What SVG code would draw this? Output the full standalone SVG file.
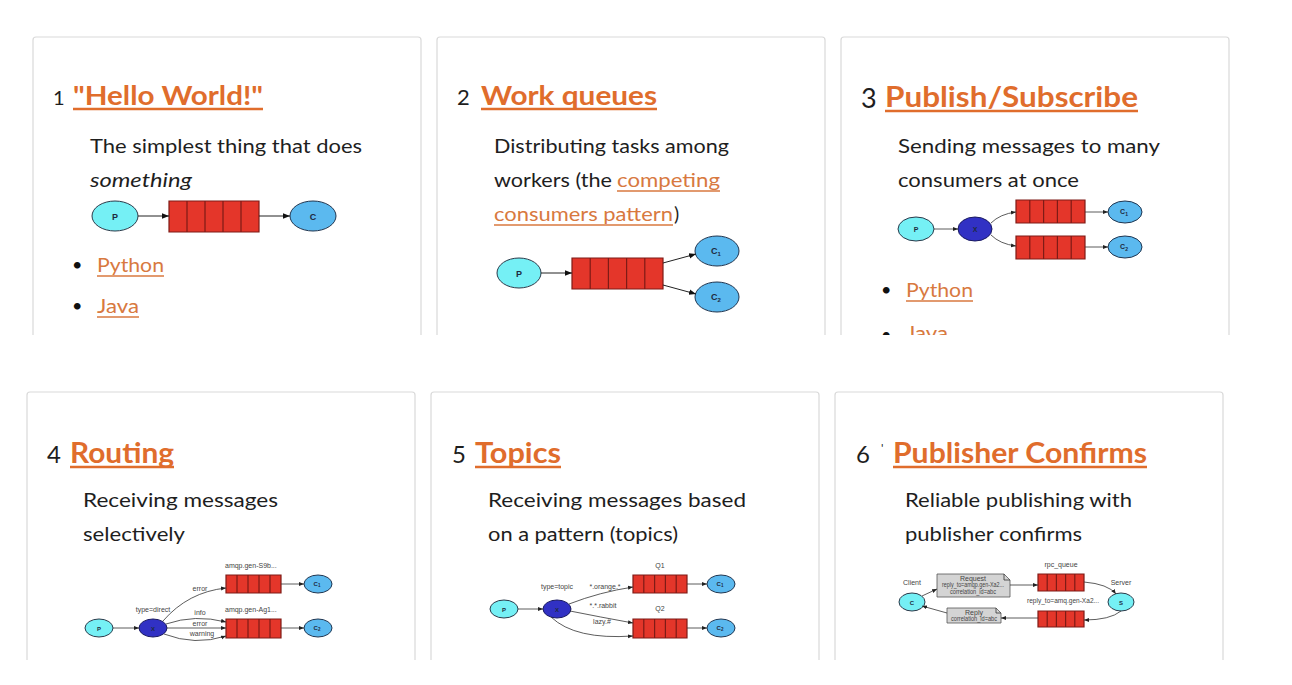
<svg xmlns="http://www.w3.org/2000/svg" xmlns:xlink="http://www.w3.org/1999/xlink" width="1292" height="685" viewBox="0 0 1292 685">
<style>
.card{fill:#fff;stroke:#d9d9d9;stroke-width:1.2}
.num{font-family:Lato,"Open Sans",sans-serif;fill:#1e1e1e}
.title{font-family:Lato,"Open Sans",sans-serif;font-weight:700;fill:#e06d2c}
.ul{stroke:#e06d2c;stroke-width:2.4}
.desc{font-family:Lato,"Open Sans",sans-serif;font-size:19.5px;fill:#1e1e1e}
.link{fill:#d8793f}
.lul{stroke:#d8793f;stroke-width:1.3}
.bul{font-family:Lato,sans-serif;font-size:18px;fill:#111}
.pn{fill:#75f0f5;stroke:#2a3a4a;stroke-width:1}
.cn{fill:#5bb9ef;stroke:#1f3550;stroke-width:1}
.xn{fill:#3131c4;stroke:#1a1a60;stroke-width:1}
.nl{font-family:"Liberation Sans",sans-serif;font-weight:700;fill:#1e2a40;text-anchor:middle}
.e{fill:none;stroke:#222;stroke-width:1}
.es{fill:none;stroke:#333;stroke-width:0.8}
.lbl{font-family:"Liberation Sans",Arial,sans-serif;font-size:7px;fill:#444}
.lblc{font-family:"Liberation Sans",Arial,sans-serif;font-size:7px;fill:#444;text-anchor:middle}
.box{fill:#d4d4d4;stroke:#555;stroke-width:0.8}
</style>
<defs>
<marker id="ah" viewBox="0 0 10 10" refX="10" refY="5" markerWidth="7" markerHeight="7" orient="auto" markerUnits="userSpaceOnUse"><path d="M0,1 L10,5 L0,9 z" fill="#111"/></marker>
<marker id="ahs" viewBox="0 0 10 10" refX="10" refY="5" markerWidth="5" markerHeight="5" orient="auto" markerUnits="userSpaceOnUse"><path d="M0,1 L10,5 L0,9 z" fill="#222"/></marker>
<symbol id="queue" viewBox="0 0 100 30" preserveAspectRatio="none" overflow="visible">
<rect x="0" y="0" width="100" height="30" fill="#e4362a" stroke="#7e1b16" stroke-width="1.2" vector-effect="non-scaling-stroke"/>
<path d="M20,0V30M40,0V30M60,0V30M80,0V30" stroke="#7e1b16" stroke-width="1.2" vector-effect="non-scaling-stroke"/>
</symbol>
<clipPath id="topclip"><rect x="0" y="0" width="1292" height="335"/></clipPath>
<clipPath id="botclip"><rect x="0" y="380" width="1292" height="280"/></clipPath>
</defs>
<rect width="1292" height="685" fill="#fff"/>

<g id="card1" clip-path="url(#topclip)">
<path class="card" d="M33,340V40a3,3 0 0 1 3,-3H418a3,3 0 0 1 3,3V340"/>
<text class="num" x="53" y="105" font-size="20">1</text>
<text class="title" x="73" y="105" font-size="27" textLength="190" lengthAdjust="spacingAndGlyphs">"Hello World!"</text>
<line class="ul" x1="73" y1="109" x2="263" y2="109"/>
<text class="desc" x="90" y="153" textLength="272" lengthAdjust="spacingAndGlyphs">The simplest thing that does</text>
<text class="desc" x="90" y="187" font-style="italic" textLength="102" lengthAdjust="spacingAndGlyphs">something</text>
<ellipse class="pn" cx="115" cy="216" rx="23" ry="15"/><text class="nl" x="115" y="219.5" font-size="9">P</text>
<use href="#queue" x="169" y="201" width="90" height="31"/>
<ellipse class="cn" cx="313" cy="216" rx="23" ry="15"/><text class="nl" x="313" y="219.5" font-size="9">C</text>
<text class="bul" x="72" y="271">•</text>
<text class="desc link" x="97" y="272" textLength="67" lengthAdjust="spacingAndGlyphs">Python</text>
<line class="lul" x1="97" y1="276" x2="164" y2="276"/>
<text class="bul" x="72" y="312">•</text>
<text class="desc link" x="97" y="313" textLength="42" lengthAdjust="spacingAndGlyphs">Java</text>
<line class="lul" x1="97" y1="317" x2="139" y2="317"/>
</g>

<g id="card2" clip-path="url(#topclip)">
<path class="card" d="M437,340V40a3,3 0 0 1 3,-3H822a3,3 0 0 1 3,3V340"/>
<text class="num" x="457" y="105" font-size="22">2</text>
<text class="title" x="481" y="105" font-size="27" textLength="176" lengthAdjust="spacingAndGlyphs">Work queues</text>
<line class="ul" x1="481" y1="109" x2="657" y2="109"/>
<text class="desc" x="494" y="153" textLength="235" lengthAdjust="spacingAndGlyphs">Distributing tasks among</text>
<text class="desc" x="494" y="187" textLength="118" lengthAdjust="spacingAndGlyphs">workers (the</text>
<text class="desc link" x="617" y="187" textLength="103" lengthAdjust="spacingAndGlyphs">competing</text>
<line class="lul" x1="617" y1="191" x2="720" y2="191"/>
<text class="desc link" x="494" y="221" textLength="179" lengthAdjust="spacingAndGlyphs">consumers pattern</text>
<line class="lul" x1="494" y1="225" x2="673" y2="225"/>
<text class="desc" x="674" y="221">)</text>
<ellipse class="pn" cx="519" cy="273" rx="22" ry="15"/><text class="nl" x="519" y="276.5" font-size="9" font-weight="400">P</text>
<use href="#queue" x="572" y="258" width="91" height="31"/>
<ellipse class="cn" cx="717" cy="251" rx="22" ry="15"/><text class="nl" x="716" y="254" font-size="9" font-weight="400">C<tspan font-size="6" dy="2">1</tspan></text>
<ellipse class="cn" cx="717" cy="297" rx="22" ry="15"/><text class="nl" x="716" y="300" font-size="9" font-weight="400">C<tspan font-size="6" dy="2">2</tspan></text>
</g>

<g id="card3" clip-path="url(#topclip)">
<path class="card" d="M841,340V40a3,3 0 0 1 3,-3H1226a3,3 0 0 1 3,3V340"/>
<text class="num" x="861" y="108" font-size="27">3</text>
<text class="title" x="885" y="107" font-size="29" textLength="253" lengthAdjust="spacingAndGlyphs">Publish/Subscribe</text>
<line class="ul" x1="885" y1="111" x2="1138" y2="111"/>
<text class="desc" x="898" y="153" textLength="262" lengthAdjust="spacingAndGlyphs">Sending messages to many</text>
<text class="desc" x="898" y="187" textLength="181" lengthAdjust="spacingAndGlyphs">consumers at once</text>
<ellipse class="pn" cx="916" cy="229" rx="18" ry="12"/><text class="nl" x="916" y="232" font-size="7" font-weight="400">P</text>
<ellipse class="xn" cx="975" cy="229" rx="17" ry="12"/><text class="nl" x="975" y="232" font-size="7" font-weight="400" fill="#2a2a90">X</text>
<use href="#queue" x="1016" y="200" width="69" height="23"/>
<use href="#queue" x="1016" y="236" width="69" height="23"/>
<ellipse class="cn" cx="1125" cy="212" rx="17" ry="11"/><text class="nl" x="1124" y="214" font-size="7" font-weight="400">C<tspan font-size="5" dy="1.5">1</tspan></text>
<ellipse class="cn" cx="1125" cy="247" rx="17" ry="11"/><text class="nl" x="1124" y="249" font-size="7" font-weight="400">C<tspan font-size="5" dy="1.5">2</tspan></text>
<text class="bul" x="881" y="296">•</text>
<text class="desc link" x="906" y="297" textLength="67" lengthAdjust="spacingAndGlyphs">Python</text>
<line class="lul" x1="906" y1="301" x2="973" y2="301"/>
<text class="bul" x="881" y="341">•</text>
<text class="desc link" x="906" y="340" textLength="42" lengthAdjust="spacingAndGlyphs">Java</text>
</g>

<g id="card4" clip-path="url(#botclip)">
<path class="card" d="M27,665V395a3,3 0 0 1 3,-3H412a3,3 0 0 1 3,3V665"/>
<text class="num" x="47" y="463" font-size="24">4</text>
<text class="title" x="70" y="463" font-size="28" textLength="104" lengthAdjust="spacingAndGlyphs">Routing</text>
<line class="ul" x1="70" y1="467" x2="174" y2="467"/>
<text class="desc" x="83" y="507" textLength="195" lengthAdjust="spacingAndGlyphs">Receiving messages</text>
<text class="desc" x="83" y="541" textLength="102" lengthAdjust="spacingAndGlyphs">selectively</text>
<ellipse class="pn" cx="99" cy="628" rx="14" ry="9"/><text class="nl" x="99" y="630.5" font-size="6" font-weight="400">P</text>
<ellipse class="xn" cx="153" cy="628" rx="14" ry="9"/><text class="nl" x="153" y="630.5" font-size="6" font-weight="400" fill="#8fa0ff">X</text>
<use href="#queue" x="226" y="575" width="55" height="18"/>
<use href="#queue" x="226" y="619" width="55" height="19"/>
<ellipse class="cn" cx="318" cy="584" rx="14" ry="9"/><text class="nl" x="317" y="586" font-size="6" font-weight="400">C<tspan font-size="4.5" dy="1.2">1</tspan></text>
<ellipse class="cn" cx="318" cy="628" rx="14" ry="9"/><text class="nl" x="317" y="630" font-size="6" font-weight="400">C<tspan font-size="4.5" dy="1.2">2</tspan></text>
<text class="lbl" x="225" y="568">amqp.gen-S9b...</text>
<text class="lbl" x="225" y="612">amqp.gen-Ag1...</text>
<text class="lblc" x="200" y="591">error</text>
<text class="lblc" x="153" y="612">type=direct</text>
<text class="lblc" x="200" y="615">info</text>
<text class="lblc" x="200" y="626">error</text>
<text class="lblc" x="202" y="636">warning</text>
</g>

<g id="card5" clip-path="url(#botclip)">
<path class="card" d="M431,665V395a3,3 0 0 1 3,-3H816a3,3 0 0 1 3,3V665"/>
<text class="num" x="452" y="463" font-size="24">5</text>
<text class="title" x="475" y="463" font-size="28" textLength="86" lengthAdjust="spacingAndGlyphs">Topics</text>
<line class="ul" x1="475" y1="467" x2="561" y2="467"/>
<text class="desc" x="488" y="507" textLength="258" lengthAdjust="spacingAndGlyphs">Receiving messages based</text>
<text class="desc" x="488" y="541" textLength="190" lengthAdjust="spacingAndGlyphs">on a pattern (topics)</text>
<ellipse class="pn" cx="504" cy="609" rx="14" ry="9"/><text class="nl" x="504" y="611.5" font-size="6" font-weight="400">P</text>
<ellipse class="xn" cx="557" cy="609" rx="14" ry="9"/><text class="nl" x="557" y="611.5" font-size="6" font-weight="400" fill="#8fa0ff">X</text>
<use href="#queue" x="633" y="575" width="54" height="18"/>
<use href="#queue" x="633" y="619" width="54" height="19"/>
<ellipse class="cn" cx="721" cy="584" rx="14" ry="9"/><text class="nl" x="720" y="586" font-size="6" font-weight="400">C<tspan font-size="4.5" dy="1.2">1</tspan></text>
<ellipse class="cn" cx="721" cy="628" rx="14" ry="9"/><text class="nl" x="720" y="630" font-size="6" font-weight="400">C<tspan font-size="4.5" dy="1.2">2</tspan></text>
<text class="lblc" x="660" y="568">Q1</text>
<text class="lblc" x="660" y="611">Q2</text>
<text class="lblc" x="557" y="589">type=topic</text>
<text class="lblc" x="605" y="589">*.orange.*</text>
<text class="lblc" x="603" y="608">*.*.rabbit</text>
<text class="lblc" x="602" y="624">lazy.#</text>
</g>

<g id="card6" clip-path="url(#botclip)">
<path class="card" d="M835,665V395a3,3 0 0 1 3,-3H1220a3,3 0 0 1 3,3V665"/>
<text class="num" x="856" y="463" font-size="24">6</text>
<text class="num" x="881" y="452" font-size="12" fill="#999">'</text>
<text class="title" x="893" y="463" font-size="28" textLength="254" lengthAdjust="spacingAndGlyphs">Publisher Confirms</text>
<line class="ul" x1="893" y1="467" x2="1147" y2="467"/>
<text class="desc" x="905" y="507" textLength="227" lengthAdjust="spacingAndGlyphs">Reliable publishing with</text>
<text class="desc" x="905" y="541" textLength="177" lengthAdjust="spacingAndGlyphs">publisher confirms</text>
<text class="lblc" x="912" y="585" font-size="6">Client</text>
<ellipse class="pn" cx="912" cy="602" rx="13" ry="9"/><text class="nl" x="912" y="604.5" font-size="6" font-weight="400">C</text>
<path class="box" d="M937,574H1004L1010,580V597H937Z"/><path class="es" d="M1004,574V580H1010"/>
<text class="lblc" x="973" y="580.5" font-size="5">Request</text>
<text class="lblc" x="973" y="587" font-size="5" textLength="62" lengthAdjust="spacingAndGlyphs">reply_to=amqp.gen-Xa2...</text>
<text class="lblc" x="973" y="593.5" font-size="5" textLength="46" lengthAdjust="spacingAndGlyphs">correlation_id=abc</text>
<path class="box" d="M947,608H996L1001,613V623H947Z"/><path class="es" d="M996,608V613H1001"/>
<text class="lblc" x="974" y="614.5" font-size="5">Reply</text>
<text class="lblc" x="974" y="620.5" font-size="5" textLength="46" lengthAdjust="spacingAndGlyphs">correlation_id=abc</text>
<text class="lblc" x="1061" y="567" font-size="6">rpc_queue</text>
<use href="#queue" x="1038" y="574" width="46" height="17"/>
<text class="lblc" x="1063" y="603" font-size="6" textLength="72" lengthAdjust="spacingAndGlyphs">reply_to=amq.gen-Xa2...</text>
<use href="#queue" x="1038" y="611" width="46" height="16"/>
<text class="lblc" x="1121" y="585" font-size="6">Server</text>
<ellipse class="pn" cx="1121" cy="602" rx="13" ry="9"/><text class="nl" x="1121" y="604.5" font-size="6" font-weight="400">S</text>
</g>

<g id="connectors">
<path class="e" marker-end="url(#ah)" d="M138,216H169"/>
<path class="e" marker-end="url(#ah)" d="M259,216H290"/>
<path class="e" marker-end="url(#ah)" d="M541,273H572"/>
<path class="e" marker-end="url(#ah)" d="M663,263L696,254"/>
<path class="e" marker-end="url(#ah)" d="M663,285L696,294"/>
<path class="es" marker-end="url(#ahs)" d="M934,229H958"/>
<path class="es" marker-end="url(#ahs)" d="M991,223Q1000,214 1016,212"/>
<path class="es" marker-end="url(#ahs)" d="M991,235Q1000,244 1016,246"/>
<path class="es" marker-end="url(#ahs)" d="M1085,212H1108"/>
<path class="es" marker-end="url(#ahs)" d="M1085,247H1108"/>
<path class="es" marker-end="url(#ahs)" d="M113,628H139"/>
<path class="es" marker-end="url(#ahs)" d="M163,621Q188,592 226,588"/>
<path class="es" marker-end="url(#ahs)" d="M166,624Q195,614 226,622"/>
<path class="es" marker-end="url(#ahs)" d="M167,628H226"/>
<path class="es" marker-end="url(#ahs)" d="M164,634Q195,646 226,636"/>
<path class="es" marker-end="url(#ahs)" d="M281,584H304"/>
<path class="es" marker-end="url(#ahs)" d="M281,628H304"/>
<path class="es" marker-end="url(#ahs)" d="M518,609H543"/>
<path class="es" marker-end="url(#ahs)" d="M569,604Q600,592 633,587"/>
<path class="es" marker-end="url(#ahs)" d="M570,611Q600,617 633,623"/>
<path class="es" marker-end="url(#ahs)" d="M551,617Q575,640 633,636"/>
<path class="es" marker-end="url(#ahs)" d="M687,584H707"/>
<path class="es" marker-end="url(#ahs)" d="M687,628H707"/>
<path class="es" marker-end="url(#ahs)" d="M922,596L937,589"/>
<path class="es" marker-end="url(#ahs)" d="M1010,585H1038"/>
<path class="es" marker-end="url(#ahs)" d="M1084,582Q1108,584 1116,594"/>
<path class="es" marker-end="url(#ahs)" d="M1121,611Q1110,620 1084,620"/>
<path class="es" marker-end="url(#ahs)" d="M1038,618H1001"/>
<path class="es" marker-end="url(#ahs)" d="M947,613L922,606"/>
</g>
</svg>
